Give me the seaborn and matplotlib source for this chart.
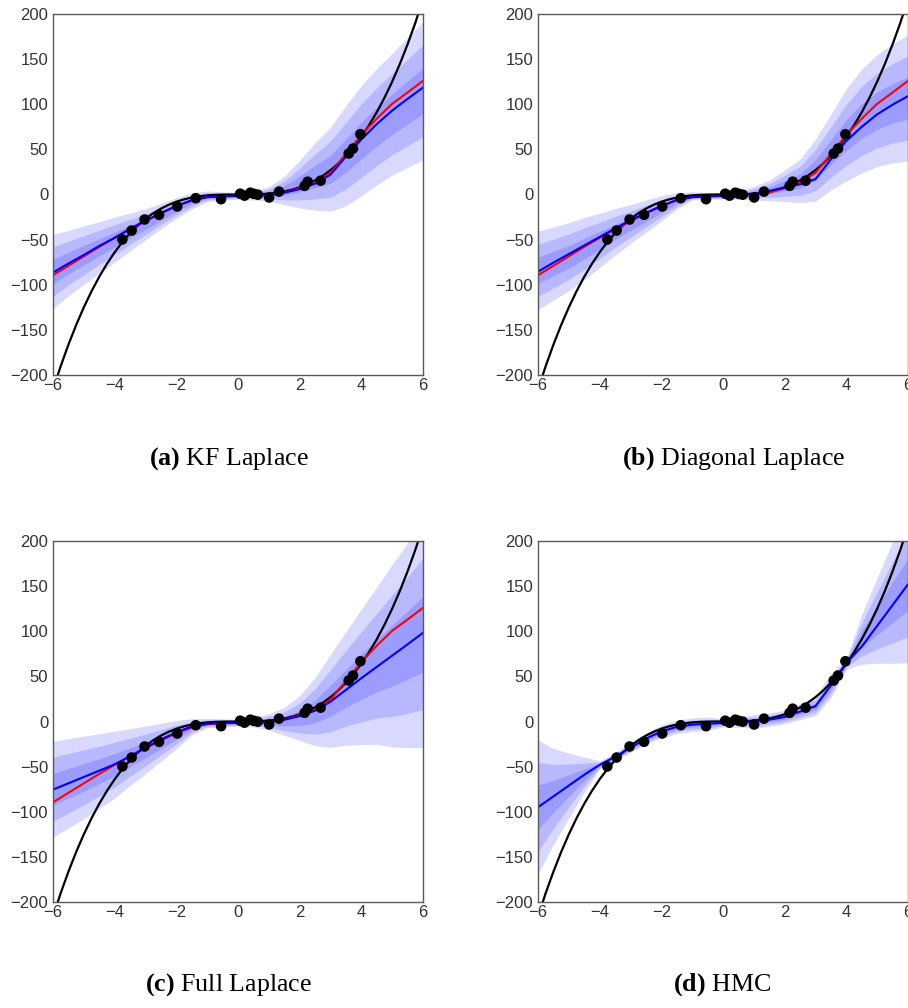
import numpy as np
import matplotlib
matplotlib.use("Agg")
import matplotlib.pyplot as plt
import seaborn as sns

# ---------------- data ----------------
x_grid = [-6.0, -5.5, -5.0, -4.5, -4.0, -3.5, -3.0, -2.5, -2.0, -1.5, -1.0, -0.5,
          0.0, 0.5, 1.0, 1.5, 2.0, 2.5, 3.0, 3.5, 4.0, 4.5, 5.0, 5.5, 6.0]

# ground truth curve (black)
x_true = [-6.0, -5.75, -5.5, -5.25, -5.0, -4.75, -4.5, -4.25, -4.0, -3.75, -3.5, -3.25,
          -3.0, -2.75, -2.5, -2.25, -2.0, -1.75, -1.5, -1.25, -1.0, -0.75, -0.5, -0.25,
          0.0, 0.25, 0.5, 0.75, 1.0, 1.25, 1.5, 1.75, 2.0, 2.25, 2.5, 2.75, 3.0, 3.25,
          3.5, 3.75, 4.0, 4.25, 4.5, 4.75, 5.0, 5.25, 5.5, 5.75, 6.0]
y_true = [-216.0, -190.11, -166.38, -144.70, -125.0, -107.17, -91.13, -76.77, -64.0,
          -52.73, -42.88, -34.33, -27.0, -20.80, -15.63, -11.39, -8.0, -5.36, -3.38,
          -1.95, -1.0, -0.42, -0.13, -0.02, 0.0, 0.02, 0.13, 0.42, 1.0, 1.95, 3.38,
          5.36, 8.0, 11.39, 15.63, 20.80, 27.0, 34.33, 42.88, 52.73, 64.0, 76.77,
          91.13, 107.17, 125.0, 144.70, 166.38, 190.11, 216.0]

# observations (black dots)
x_obs = [-3.75, -3.45, -3.03, -2.56, -1.97, -1.37, -0.55, 0.07, 0.21, 0.40, 0.52,
         0.64, 1.01, 1.33, 2.16, 2.26, 2.68, 3.59, 3.73, 3.97]
y_obs = [-49.8, -39.9, -27.7, -22.5, -13.3, -4.1, -5.2, 0.9, -1.3, 2.0, 0.7,
         -0.2, -3.3, 3.2, 9.6, 14.2, 15.3, 45.4, 50.9, 66.8]

# MAP prediction (red) shared by the Laplace panels
map_pred = [-89.5, -79, -68.5, -58, -48, -38.5, -29.5, -21, -13, -6.5, -3, -2,
            -1.5, -1.5, -1, 2, 7, 13.5, 24, 45, 66, 84, 100.5, 113, 126]

# KF Laplace
kf_mean = [-86.5, -76.5, -67, -57, -48, -38, -29, -20.5, -12.5, -6.5, -3, -2,
           -1.5, -1, -0.5, 2, 6, 12, 22, 42, 61, 78, 93, 106, 118.5]
kf_center = [-85.5, -76, -67.3, -58.6, -50, -41.5, -33, -24, -15, -7, -2, -1.5,
             -1.5, -1, 0.5, 4.5, 11.5, 20, 28, 43, 59.7, 75, 89, 102, 115]
kf_std = [13.7, 12.1, 10.8, 9.5, 8.3, 7, 5.8, 4.7, 3.8, 3, 2, 1.5,
          1.3, 1.7, 2.75, 5.2, 8.8, 12.5, 15.5, 18.5, 20.4, 21.5, 22.5, 24, 25.5]

# Diagonal Laplace
diag_mean = [-85.5, -75.5, -66, -56.5, -47, -37.5, -28.5, -20.5, -12.5, -6, -3, -2,
             -1.5, -1, 0.4, 4, 7.7, 11.4, 17, 39, 59.3, 75, 88.8, 99.5, 109]
diag_center = [-84, -76.5, -69, -60, -50.7, -41.5, -32.7, -24, -15.4, -7.2, -1.5, -1.5,
               -1.5, -1, 1.5, 4.5, 9.7, 15, 27, 47, 66, 81.5, 93, 101, 107]
diag_std = [14.5, 13.5, 12.6, 11.5, 10, 8.6, 7.2, 6, 4.7, 3, 1.5, 1.2,
            1.2, 1.5, 2.5, 3.8, 5.8, 8, 11.5, 14, 17, 19.2, 20.7, 22, 23.3]

# Full Laplace
full_mean = [-75.4, -68.5, -61.5, -54.5, -47.5, -38.5, -29, -20, -12, -5.5, -2.5, -1.5,
             -1.5, -1, -0.5, 2, 6, 12, 22, 35, 48, 60.5, 73, 85.5, 98.3]
full_center = [-75, -68.5, -62, -55, -47.8, -39.5, -31.5, -23, -14.5, -6, -1.75, -1.5,
               -1.5, -1, -0.4, 0.2, 3.8, 11, 23, 36.7, 49.5, 61.8, 73, 84.5, 97]
full_std = [17.7, 16.5, 15.3, 13.8, 12.4, 10.5, 8.8, 7, 5.2, 3, 1.75, 1.5,
            1.3, 1.7, 3, 5.2, 8.3, 12.6, 17.2, 21, 25, 29, 33.7, 37.8, 42]

# HMC
hmc_mean = [-95, -83, -71, -59, -48, -39, -29, -19, -11, -6, -3.5, -2.5,
            -1.5, -0.5, 0, 2, 5, 11, 17, 40, 65, 83, 106, 129, 152]
hmc_center = [-95, -83, -71, -59, -48, -39, -29, -19, -11, -6, -3.5, -2.5,
              -1.5, -0.5, 0, 2, 5, 11, 17, 40, 64, 91, 112, 132, 152]
hmc_std = [24.8, 17.7, 12, 6.5, 1.5, 1.5, 1.8, 2, 2.5, 2.5, 2.5, 2.5,
           1.5, 2, 2.5, 2.5, 2.5, 3, 3.5, 4.5, 2, 9.2, 15.8, 22.5, 29]

x_ticks = [-6, -4, -2, 0, 2, 4, 6]
y_ticks = [-200, -150, -100, -50, 0, 50, 100, 150, 200]

captions = [("(a)", "KF Laplace"), ("(b)", "Diagonal Laplace"),
            ("(c)", "Full Laplace"), ("(d)", "HMC")]

# ---------------- style ----------------
sns.set_style("white")
plt.rcParams.update({
    "font.family": ["Liberation Sans", "DejaVu Sans"],
    "axes.edgecolor": "0.35",
    "axes.linewidth": 1.0,
    "xtick.color": "0.2",
    "ytick.color": "0.2",
    "xtick.labelsize": 12,
    "ytick.labelsize": 12,
    "xtick.major.size": 0,
    "ytick.major.size": 0,
    "xtick.major.pad": 2.5,
    "ytick.major.pad": 3.5,
    "mathtext.fontset": "custom",
    "mathtext.rm": "Liberation Serif",
    "mathtext.bf": "Liberation Serif:bold",
})

W, H = 908, 1008
fig = plt.figure(figsize=(W / 100, H / 100), dpi=100)

panels = [
    (kf_mean, kf_center, kf_std, True, (53, 14), (229, 459)),
    (diag_mean, diag_center, diag_std, True, (538, 14), (734, 459)),
    (full_mean, full_center, full_std, True, (53, 541), (229, 985)),
    (hmc_mean, hmc_center, hmc_std, False, (538, 541), (722, 985)),
]
ax_w, ax_h = 370, 361

xg = np.array(x_grid)
for (mean, center, std, show_red, (px, py), (cx, cy)), (tag, name) in zip(panels, captions):
    ax = fig.add_axes([px / W, 1 - (py + ax_h) / H, ax_w / W, ax_h / H])
    c = np.array(center)
    s = np.array(std)
    for k in (3, 2, 1):
        ax.fill_between(xg, c - k * s, c + k * s, color="blue", alpha=0.15, linewidth=0)
    sns.lineplot(x=x_true, y=y_true, color="black", linewidth=1.6, ax=ax)
    if show_red:
        sns.lineplot(x=x_grid, y=map_pred, color="red", linewidth=1.5, ax=ax)
    sns.lineplot(x=x_grid, y=mean, color="blue", linewidth=1.5, ax=ax)
    sns.scatterplot(x=x_obs, y=y_obs, color="black", s=58, edgecolor="none",
                    zorder=5, ax=ax)
    ax.set_xlim(-6, 6)
    ax.set_ylim(-200, 200)
    ax.set_xticks(x_ticks)
    ax.set_yticks(y_ticks)
    fig.text(cx / W, 1 - cy / H, r"$\mathbf{" + tag + r"}$ " + name,
             ha="center", va="center", fontsize=18.7, family="Liberation Serif",
             color="black")

fig.savefig("out.png", dpi=100)
